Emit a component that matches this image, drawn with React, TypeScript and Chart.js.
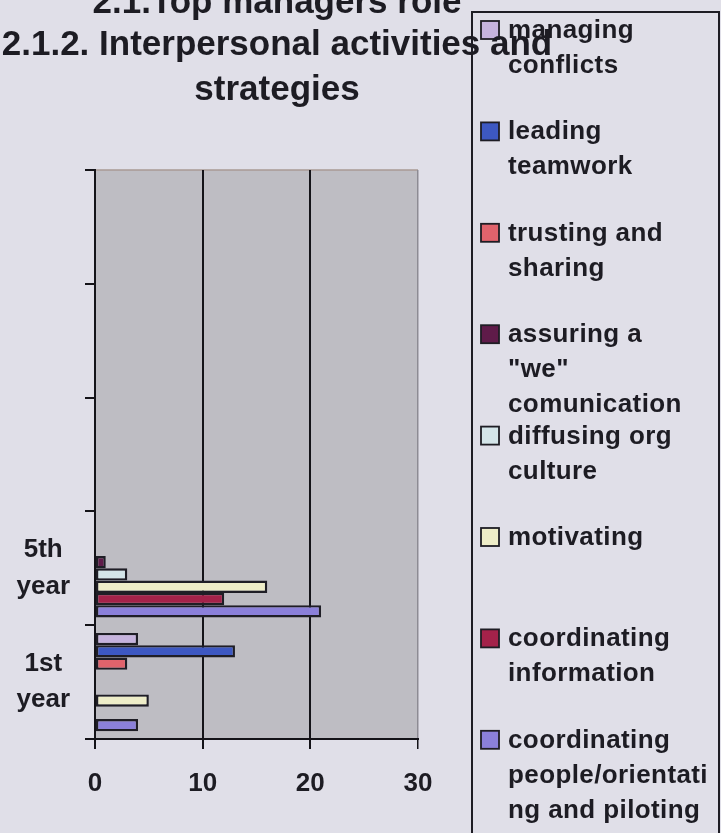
import { useEffect, useRef } from 'react';
import { Chart, registerables } from 'chart.js';

Chart.register(...registerables);

// Category slots, top to bottom (the upper three are unused)
const categories = ['', '', '', '5th year', '1st year'];

// Series names, wrapped the way the legend shows them
const seriesLines: string[][] = [
  ['managing', 'conflicts'],
  ['leading', 'teamwork'],
  ['trusting and', 'sharing'],
  ['assuring a', '"we"', 'comunication'],
  ['diffusing org', 'culture'],
  ['motivating'],
  ['coordinating', 'information'],
  ['coordinating', 'people/orientati', 'ng and piloting'],
];

const seriesColors = [
  '#c6b3dd',
  '#3d58c2',
  '#e0636c',
  '#5f1b49',
  '#d4e5e9',
  '#eeedc8',
  '#a4224a',
  '#8b80da',
];

// Values per category slot
const managingConflicts = [null, null, null, null, 4];
const leadingTeamwork = [null, null, null, null, 13];
const trustingSharing = [null, null, null, null, 3];
const assuringWe = [null, null, null, 1, null];
const diffusingCulture = [null, null, null, 3, null];
const motivating = [null, null, null, 16, 5];
const coordinatingInformation = [null, null, null, 12, null];
const coordinatingPeople = [null, null, null, 21, 4];

const seriesValues = [
  managingConflicts,
  leadingTeamwork,
  trustingSharing,
  assuringWe,
  diffusingCulture,
  motivating,
  coordinatingInformation,
  coordinatingPeople,
];

const xMin = 0;
const xMax = 30;
const xStep = 10;

const titleLines = [
  '2.1.Top managers role',
  '2.1.2. Interpersonal activities and',
  'strategies',
];

const PAGE_BG = '#e0dfe8';
const PLOT_BG = '#bebdc3';
const INK = '#1d1c23';
const FONT_FAMILY = '"Liberation Sans", Arial, Helvetica, sans-serif';

const backdropPlugin = {
  id: 'backdrop',
  beforeDraw(chart: any) {
    const { ctx, chartArea: a, width, height } = chart;
    ctx.save();
    ctx.fillStyle = PAGE_BG;
    ctx.fillRect(0, 0, width, height);
    ctx.fillStyle = PLOT_BG;
    ctx.fillRect(a.left, a.top, a.right - a.left, a.bottom - a.top);
    ctx.strokeStyle = '#a89a94';
    ctx.lineWidth = 1.5;
    ctx.beginPath();
    ctx.moveTo(a.left, a.top);
    ctx.lineTo(a.right, a.top);
    ctx.stroke();
    ctx.restore();
  },
};

const legendBoxPlugin = {
  id: 'legendBox',
  afterDraw(chart: any) {
    const { ctx } = chart;
    ctx.save();
    ctx.strokeStyle = '#1e1d24';
    ctx.lineWidth = 2;
    ctx.strokeRect(472, 12, 247, 840);
    ctx.font = `bold 26px ${FONT_FAMILY}`;
    (ctx as any).letterSpacing = '0.4px';
    ctx.textBaseline = 'alphabetic';
    ctx.textAlign = 'left';
    chart.data.datasets.forEach((ds: any, i: number) => {
      const base = 38 + i * 101.4;
      ctx.fillStyle = ds.backgroundColor;
      ctx.fillRect(481, base - 17, 18, 18);
      ctx.strokeStyle = '#1e1d24';
      ctx.lineWidth = 1.8;
      ctx.strokeRect(481, base - 17, 18, 18);
      ctx.fillStyle = INK;
      seriesLines[i].forEach((line, k) => {
        ctx.fillText(line, 508, base + k * 35);
      });
    });
    ctx.restore();
  },
};

const titlePlugin = {
  id: 'titleText',
  afterDraw(chart: any) {
    const { ctx } = chart;
    ctx.save();
    ctx.font = `bold 35px ${FONT_FAMILY}`;
    ctx.fillStyle = INK;
    ctx.textAlign = 'center';
    ctx.textBaseline = 'alphabetic';
    const baselines = [13, 55, 100];
    titleLines.forEach((line, i) => ctx.fillText(line, 277, baselines[i]));
    ctx.restore();
  },
};

export default function App() {
  const canvasRef = useRef<HTMLCanvasElement | null>(null);

  useEffect(() => {
    if (!canvasRef.current) return;
    const chart = new Chart(canvasRef.current, {
      type: 'bar',
      data: {
        labels: categories,
        datasets: seriesValues.map((values, i) => ({
          label: seriesLines[i].join(' '),
          data: values,
          backgroundColor: seriesColors[i],
          borderColor: '#1f1e26',
          borderWidth: 2.4,
          borderSkipped: false,
          barPercentage: 1,
          categoryPercentage: 0.865,
        })),
      },
      options: {
        indexAxis: 'y',
        animation: false,
        responsive: false,
        layout: { padding: { top: 170, right: 303, bottom: 24, left: 0 } },
        plugins: {
          legend: { display: false },
          title: { display: false },
          tooltip: { enabled: false },
        },
        scales: {
          x: {
            type: 'linear',
            min: xMin,
            max: xMax,
            afterFit: (s: any) => {
              s.height = 70;
            },
            ticks: {
              stepSize: xStep,
              color: INK,
              padding: 19,
              font: { family: FONT_FAMILY, size: 26, weight: 'bold' },
            },
            grid: {
              color: (c: any) => (c.tick && c.tick.value === xMax ? '#8d8b93' : '#141318'),
              lineWidth: (c: any) => (c.tick && c.tick.value === xMax ? 1.5 : 2),
              tickColor: '#141318',
              tickLength: 10,
            },
            border: { display: true, color: '#141318', width: 2 },
          },
          y: {
            type: 'category',
            offset: true,
            afterFit: (s: any) => {
              s.width = 95;
            },
            ticks: {
              color: INK,
              padding: 15,
              crossAlign: 'center',
              autoSkip: false,
              font: { family: FONT_FAMILY, size: 26, weight: 'bold', lineHeight: 1.4 },
              callback: (_v: any, i: number) => (categories[i] ? categories[i].split(' ') : ''),
            },
            grid: {
              drawOnChartArea: false,
              offset: true,
              color: '#141318',
              lineWidth: 2,
              tickLength: 10,
            },
            border: { display: true, color: '#141318', width: 2 },
          },
        },
      },
      plugins: [backdropPlugin, legendBoxPlugin, titlePlugin],
    } as any);
    return () => chart.destroy();
  }, []);

  return (
    <div style={{ position: 'fixed', left: 0, top: 0, width: 721, height: 833, background: PAGE_BG }}>
      <canvas ref={canvasRef} width={721} height={833} style={{ display: 'block' }} />
    </div>
  );
}
